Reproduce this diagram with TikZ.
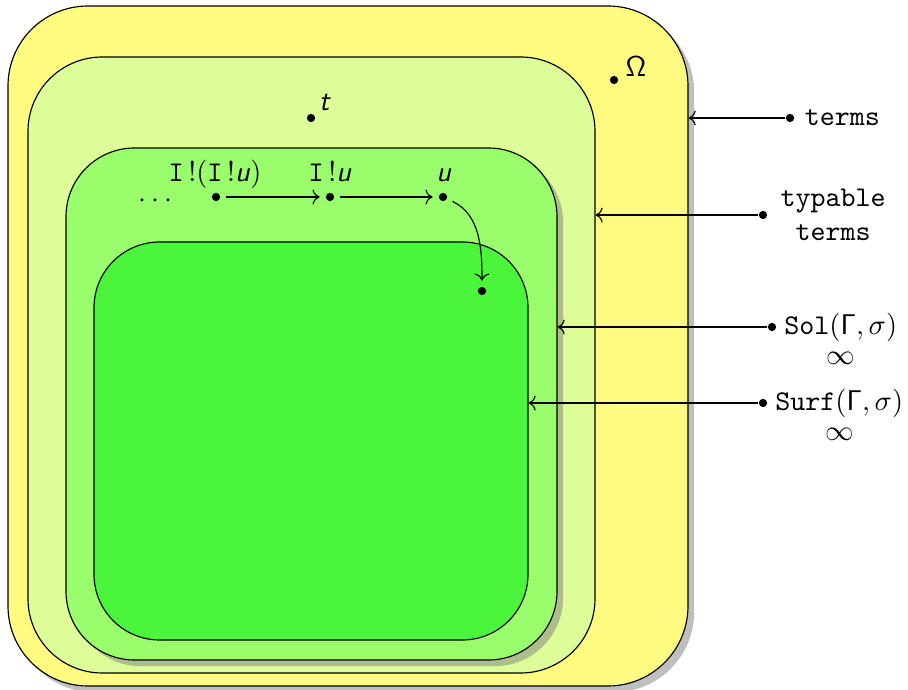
\documentclass[tikz,border=0pt]{standalone}
\usepackage{tikz}
\usepackage{amsmath}
\usetikzlibrary{arrows.meta, positioning, shadows, fit}
\definecolor{setyellow}{RGB}{255, 251, 128}
\definecolor{setlime}{RGB}{221, 253, 152}
\definecolor{setgreen}{RGB}{153, 253, 108}
\definecolor{setbright}{RGB}{74, 245, 60}
\newcommand{\svar}[1]{\textsf{\textit{#1}}}

\begin{document}
\begin{tikzpicture}[
    x=0.35pt, y=-0.35pt,
    region/.style={draw=black, inner sep=0pt},
    pt/.style={circle, fill=black, inner sep=0pt, minimum size=2.9pt},
    link/.style={->, shorten >=2pt, shorten <=2pt},
    pointer/.style={->}
]
\useasboundingbox (0,0) rectangle (908,690);

% === Conjuntos anidados ===
\node[region, fill=setyellow, rounded corners=28pt, drop shadow, fit={(8,6) (688,686)}] (omega) {};
\node[region, fill=setlime, rounded corners=26pt, fit={(28,57) (595,673)}] (typable) {};
\node[region, fill=setgreen, rounded corners=24pt, drop shadow, fit={(66,148) (557,660)}] (sol) {};
\node[region, fill=setbright, rounded corners=23pt, fit={(94,242) (528,640)}] (surf) {};

% === Puntos ===
\node[pt] (omegadot) at (614,80) {};
\node (omegalab) at (636,67) {$\mathsf{\Omega}$};
\node[pt] (tdot) at (311,118) {};
\node (tlab) at (325,103) {\svar{t}};

\node (dots) at (158,201) {$\cdots$};
\node[pt] (iiudot) at (216,197) {};
\node[pt] (iudot) at (330,197) {};
\node[pt] (udot) at (443,197) {};
\node[pt] (surfdot) at (482,291) {};
\node[anchor=base] (iiulab) at (215,182) {\texttt{I}\,!(\texttt{I}\,!\svar{u})};
\node[anchor=base] (iulab) at (330,182) {\texttt{I}\,!\svar{u}};
\node[anchor=base] (ulab) at (444,182) {\svar{u}};

\draw[link] (iiudot) -- (iudot);
\draw[link] (iudot) -- (udot);
\draw[link] (udot) to[out=-25, in=90] (surfdot);

% === Etiquetas ===
\node[pt] (termsdot) at (790,118) {};
\node[right=0pt of termsdot, font=\ttfamily] (termslab) {terms};
\node[pt] (typdot) at (763,215) {};
\node[right=1pt of typdot, font=\ttfamily, align=center] (typlab) {typable\\terms};
\node[pt] (soldot) at (772,327) {};
\node[right=1.5pt of soldot, inner sep=1pt] (sollab) {\texttt{Sol}$(\mathsf{\Gamma},\sigma)$};
\node[below=1.5pt of sollab, inner sep=1pt] (solinf) {$\infty$};
\node[pt] (surflabdot) at (763,403) {};
\node[right=1.5pt of surflabdot, inner sep=1pt] (surflab) {\texttt{Surf}$(\mathsf{\Gamma},\sigma)$};
\node[below=1.5pt of surflab, inner sep=1pt] (surfinf) {$\infty$};

\draw[pointer] (termsdot) -- (termsdot -| omega.east);
\draw[pointer] (typdot) -- (typdot -| typable.east);
\draw[pointer] (soldot) -- (soldot -| sol.east);
\draw[pointer] (surflabdot) -- (surflabdot -| surf.east);

\end{tikzpicture}
\end{document}
